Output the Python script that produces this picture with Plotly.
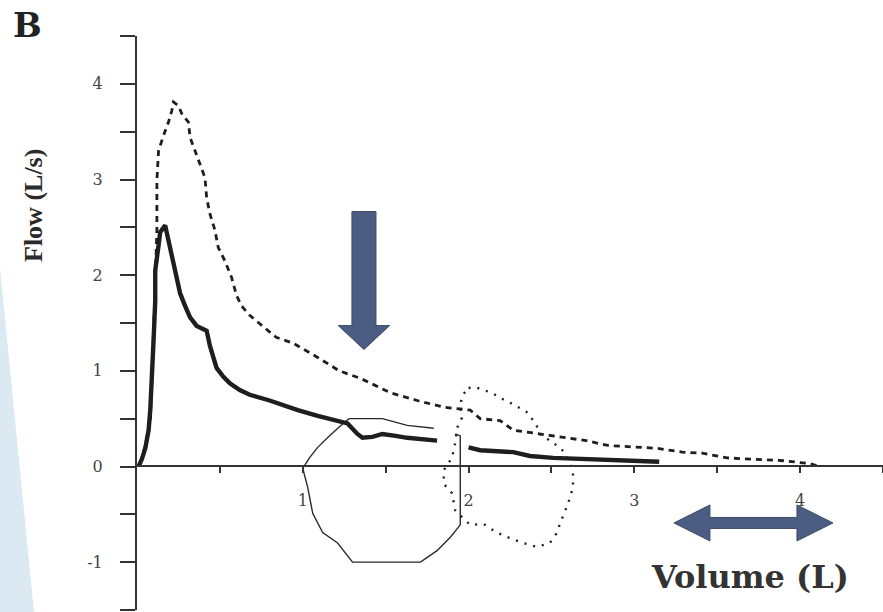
import plotly.graph_objects as go

# ---------------- data ----------------
# Dashed curve: forced expiratory flow-volume curve (larger)
dash_vol = [0.02, 0.05, 0.08, 0.09, 0.10, 0.11, 0.12, 0.12, 0.13, 0.16, 0.19, 0.21, 0.22,
            0.25, 0.27, 0.31, 0.32, 0.35, 0.38, 0.41, 0.42, 0.44, 0.47, 0.49, 0.53, 0.57,
            0.60, 0.63, 0.68, 0.74, 0.84, 0.94, 1.09, 1.22, 1.35, 1.53, 1.69, 1.85, 2.01,
            2.07, 2.19, 2.27, 2.35, 2.56, 2.71, 2.84, 3.02, 3.14, 3.29, 3.41, 3.56, 3.74,
            3.90, 4.06, 4.12]
dash_flow = [0.04, 0.22, 0.48, 0.90, 1.42, 1.94, 2.47, 2.99, 3.30, 3.46, 3.60, 3.72, 3.81,
             3.77, 3.69, 3.60, 3.44, 3.30, 3.17, 3.02, 2.81, 2.64, 2.47, 2.29, 2.15, 1.98,
             1.79, 1.68, 1.58, 1.49, 1.35, 1.29, 1.14, 1.00, 0.92, 0.77, 0.69, 0.62, 0.59,
             0.50, 0.48, 0.38, 0.36, 0.30, 0.27, 0.22, 0.20, 0.19, 0.15, 0.14, 0.09, 0.07,
             0.06, 0.03, 0.00]

# Thick solid curve: forced expiratory flow-volume curve (smaller); None = gap
thick_vol = [0.01, 0.03, 0.05, 0.07, 0.08, 0.09, 0.10, 0.11, 0.11, 0.13, 0.14, 0.17, 0.19,
             0.21, 0.22, 0.24, 0.26, 0.29, 0.32, 0.36, 0.42, 0.44, 0.46, 0.48, 0.52, 0.56,
             0.62, 0.68, 0.80, 0.88, 0.97, 1.09, 1.27, 1.33, 1.36, 1.42, 1.48, 1.56, 1.63,
             1.81, None, 2.00, 2.07, 2.27, 2.37, 2.51, 2.69, 2.91, 3.15]
thick_flow = [0.00, 0.08, 0.19, 0.38, 0.59, 0.90, 1.32, 1.73, 2.05, 2.31, 2.45, 2.52, 2.36,
              2.20, 2.12, 1.94, 1.81, 1.68, 1.56, 1.47, 1.42, 1.26, 1.14, 1.03, 0.94, 0.87,
              0.80, 0.75, 0.69, 0.64, 0.59, 0.53, 0.45, 0.34, 0.30, 0.31, 0.34, 0.32, 0.30,
              0.27, None, 0.20, 0.17, 0.15, 0.11, 0.09, 0.08, 0.06, 0.05]

# Thin solid loop: tidal breath
thin_vol = [1.79, 1.63, 1.48, 1.28, 1.25, 1.16, 1.09, 1.04, 1.00, 1.03, 1.06, 1.12, 1.21,
            1.30, 1.71, 1.81, 1.89, 1.95, 1.95, 1.92]
thin_flow = [0.40, 0.43, 0.50, 0.50, 0.46, 0.32, 0.20, 0.09, -0.02, -0.22, -0.49, -0.69,
             -0.80, -1.00, -1.00, -0.88, -0.74, -0.61, 0.32, 0.34]

# Dotted loop: tidal breath
dot_vol = [2.00, 2.04, 2.14, 2.20, 2.28, 2.36, 2.39, 2.42, 2.43, 2.51, 2.58, 2.63, 2.63,
           2.60, 2.56, 2.53, 2.49, 2.41, 2.33, 2.25, 2.17, 2.09, 2.01, 1.92, 1.90, 1.85,
           1.85, 1.90, 1.92, 1.93, 1.96, 1.95, 1.96, 2.00]
dot_flow = [0.82, 0.83, 0.77, 0.71, 0.64, 0.56, 0.48, 0.40, 0.34, 0.25, 0.15, -0.04, -0.22,
            -0.39, -0.56, -0.70, -0.80, -0.84, -0.80, -0.75, -0.69, -0.60, -0.61, -0.46,
            -0.28, -0.18, -0.04, 0.09, 0.25, 0.40, 0.51, 0.62, 0.74, 0.82]

x_tickvals = [0.5, 1, 1.5, 2, 2.5, 3, 3.5, 4, 4.5]
x_ticktext = ["", "1", "", "2", "", "3", "", "4", ""]
y_tickvals = [-1.5, -1, -0.5, 0, 0.5, 1, 1.5, 2, 2.5, 3, 3.5, 4, 4.5]
y_ticktext = ["", "-1", "", "0", "", "1", "", "2", "", "3", "", "4", ""]

panel_label = "B"
x_title = "Volume (L)"
y_title = "Flow (L/s)"

# ---------------- layout constants ----------------
W, H = 883, 612
ML, MR, MT, MB = 137, 0, 36, 2
PW, PH = W - ML - MR, H - MT - MB


def px_x(px):
    return (px - ML) / PW


def px_y(py):
    return (H - MB - py) / PH


ink = "#1e1e1e"
fig = go.Figure()

fig.add_trace(go.Scatter(x=dash_vol, y=dash_flow, mode="lines",
                         line=dict(color=ink, width=2.8, dash="6px,5px"),
                         hoverinfo="skip", showlegend=False))
fig.add_trace(go.Scatter(x=thin_vol, y=thin_flow, mode="lines",
                         line=dict(color="#2a2a2a", width=1.4),
                         hoverinfo="skip", showlegend=False))
fig.add_trace(go.Scatter(x=dot_vol, y=dot_flow, mode="lines",
                         line=dict(color=ink, width=2.4, dash="2px,7px"),
                         hoverinfo="skip", showlegend=False))
fig.add_trace(go.Scatter(x=thick_vol, y=thick_flow, mode="lines", connectgaps=False,
                         line=dict(color=ink, width=4.4),
                         hoverinfo="skip", showlegend=False))

# ---------------- arrows (decorations, data units) ----------------
arrow_fill = "#4b5d82"
arrow_line = "#3d4a63"
down = dict(x=1.369, top=2.665, neck=1.473, tip=1.223, shaft=0.145, head=0.31)
p = (f"M {down['x']-down['shaft']/2},{down['top']} L {down['x']+down['shaft']/2},{down['top']} "
     f"L {down['x']+down['shaft']/2},{down['neck']} L {down['x']+down['head']/2},{down['neck']} "
     f"L {down['x']},{down['tip']} L {down['x']-down['head']/2},{down['neck']} "
     f"L {down['x']-down['shaft']/2},{down['neck']} Z")
fig.add_shape(type="path", path=p, xref="x", yref="y", fillcolor=arrow_fill,
              line=dict(color=arrow_line, width=1))

dbl = dict(x0=3.239, x1=4.198, xn0=3.456, xn1=3.981, y=-0.59, shaft=0.115, head=0.376)
ys0, ys1 = dbl["y"] + dbl["shaft"] / 2, dbl["y"] - dbl["shaft"] / 2
yh0, yh1 = dbl["y"] + dbl["head"] / 2, dbl["y"] - dbl["head"] / 2
p2 = (f"M {dbl['x0']},{dbl['y']} L {dbl['xn0']},{yh0} L {dbl['xn0']},{ys0} "
      f"L {dbl['xn1']},{ys0} L {dbl['xn1']},{yh0} L {dbl['x1']},{dbl['y']} "
      f"L {dbl['xn1']},{yh1} L {dbl['xn1']},{ys1} L {dbl['xn0']},{ys1} "
      f"L {dbl['xn0']},{yh1} Z")
fig.add_shape(type="path", path=p2, xref="x", yref="y", fillcolor=arrow_fill,
              line=dict(color=arrow_line, width=1))

# light-blue band at the left edge
band = f"M {px_x(0)},{px_y(268)} L {px_x(0)},{px_y(612)} L {px_x(34)},{px_y(612)} Z"
fig.add_shape(type="path", path=band, xref="paper", yref="paper",
              fillcolor="#dbe9f2", line=dict(width=0), layer="below")

# ---------------- text ----------------
fig.add_annotation(text=f"<b>{panel_label}</b>", x=px_x(27), y=px_y(25), xref="paper",
                   yref="paper", showarrow=False, xanchor="center", yanchor="middle",
                   font=dict(family="DejaVu Serif", size=34, color="#222"))
fig.add_annotation(text=f"<b>{y_title}</b>", x=px_x(33), y=px_y(205), xref="paper",
                   yref="paper", showarrow=False, xanchor="center", yanchor="middle",
                   textangle=-90,
                   font=dict(family="Liberation Serif", size=26, color="#2a2a2a"))
fig.add_annotation(text=f"<b>{x_title}</b>", x=px_x(750), y=px_y(577), xref="paper",
                   yref="paper", showarrow=False, xanchor="center", yanchor="middle",
                   font=dict(family="DejaVu Serif", size=32, color="#333"))

tick_font = dict(family="DejaVu Serif", size=16, color="#444")
fig.update_layout(
    width=W, height=H,
    margin=dict(l=ML, r=MR, t=MT, b=MB, pad=0),
    paper_bgcolor="white", plot_bgcolor="white",
    xaxis=dict(range=[0, 4.5], anchor="free", position=px_y(466),
               showgrid=False, zeroline=False, showline=True, linecolor="#333",
               linewidth=1.6, ticks="outside", ticklen=6, tickwidth=1.6,
               tickcolor="#333", tickvals=x_tickvals, ticktext=x_ticktext,
               tickfont=tick_font, ticklabelstandoff=14),
    yaxis=dict(range=[-1.5, 4.5], domain=[0, 1], showgrid=False, zeroline=False,
               showline=True, linecolor="#333", linewidth=2, ticks="outside",
               ticklen=15, tickwidth=1.6, tickcolor="#333", tickvals=y_tickvals,
               ticktext=y_ticktext, tickfont=tick_font, ticklabelstandoff=14),
)

fig.write_html("out.html")
